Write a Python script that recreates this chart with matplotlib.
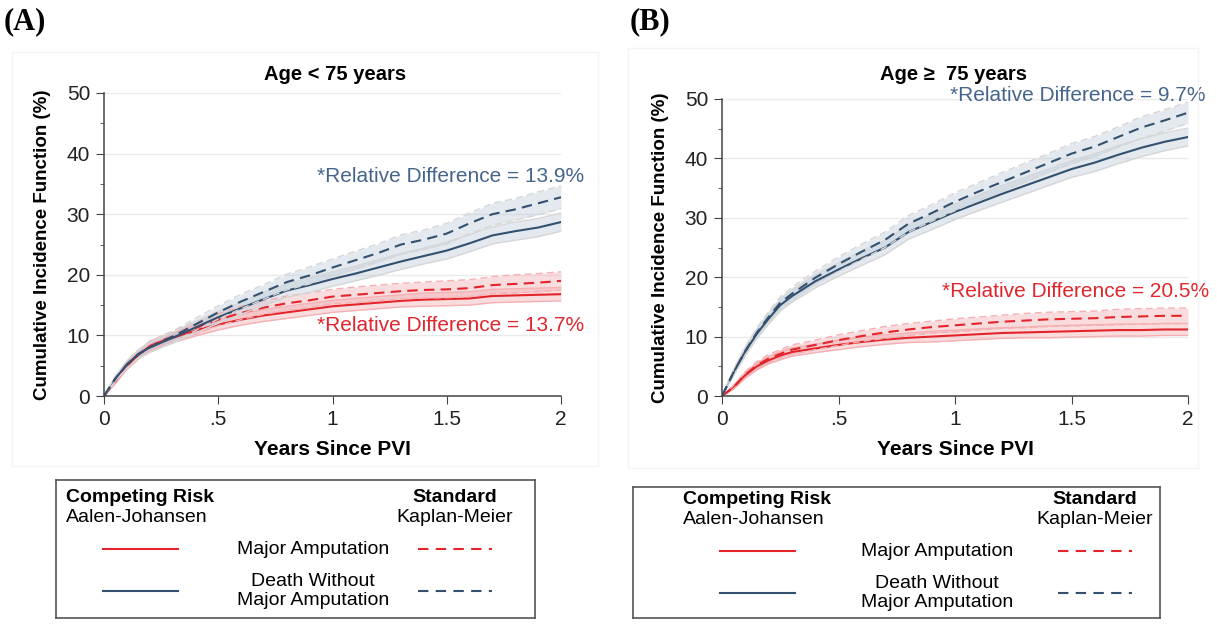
import numpy as np
import matplotlib
matplotlib.use('Agg')
from matplotlib import pyplot as plt
from matplotlib.patches import Rectangle

plt.rcParams['font.family'] = ['Liberation Sans', 'DejaVu Sans']

W, H = 1217, 624

# follow-up time (years)
times = [0, .05, .1, .15, .2, .25, .3, .4, .5, .6, .7, .8, .9, 1.0,
         1.1, 1.2, 1.3, 1.4, 1.5, 1.6, 1.7, 1.8, 1.9, 2.0]

# Panel A: age < 75
a_amp_aj = [0, 2.5, 5.0, 6.8, 8.2, 9.0, 9.6, 10.8, 11.8, 12.6, 13.3, 13.8, 14.3, 14.8,
            15.1, 15.4, 15.7, 15.9, 16.0, 16.1, 16.5, 16.6, 16.7, 16.8]
a_amp_km = [0, 2.5, 5.0, 6.8, 8.2, 9.1, 9.8, 11.2, 12.6, 13.7, 14.6, 15.3, 15.8, 16.4,
            16.7, 17.0, 17.3, 17.5, 17.6, 17.8, 18.3, 18.5, 18.7, 19.0]
a_death_aj = [0, 2.9, 5.2, 6.9, 8.0, 8.8, 9.6, 11.3, 13.0, 14.5, 16.0, 17.4, 18.3, 19.3,
              20.2, 21.2, 22.2, 23.1, 24.0, 25.2, 26.5, 27.2, 27.8, 28.7]
a_death_km = [0, 2.9, 5.2, 6.9, 8.0, 8.9, 9.8, 11.8, 13.8, 15.6, 17.2, 18.8, 19.9, 21.2,
              22.4, 23.6, 25.0, 25.8, 26.8, 28.5, 30.0, 30.8, 31.8, 32.8]
# 95% CI half-widths
a_amp_aj_ci = [0, .4, .6, .7, .8, .8, .8, .9, .9, .9, 1.0, 1.0, 1.0, 1.0,
               1.0, 1.0, 1.0, 1.1, 1.1, 1.1, 1.1, 1.1, 1.1, 1.1]
a_amp_km_ci = [0, .4, .6, .7, .8, .8, .9, 1.0, 1.0, 1.1, 1.1, 1.2, 1.2, 1.2,
               1.3, 1.3, 1.3, 1.3, 1.4, 1.4, 1.4, 1.5, 1.5, 1.5]
a_death_aj_ci = [0, .4, .6, .7, .8, .8, .9, .9, 1.0, 1.0, 1.1, 1.1, 1.2, 1.2,
                 1.2, 1.3, 1.3, 1.3, 1.4, 1.4, 1.4, 1.5, 1.5, 1.5]
a_death_km_ci = [0, .4, .6, .7, .8, .9, .9, 1.0, 1.1, 1.2, 1.2, 1.3, 1.4, 1.4,
                 1.5, 1.5, 1.6, 1.6, 1.7, 1.7, 1.8, 1.8, 1.9, 1.9]

# Panel B: age >= 75
b_amp_aj = [0, 1.5, 3.5, 5.0, 6.0, 6.8, 7.4, 8.0, 8.6, 9.1, 9.5, 9.8, 10.0, 10.2,
            10.4, 10.6, 10.7, 10.8, 10.9, 11.0, 11.1, 11.1, 11.2, 11.2]
b_amp_km = [0, 1.5, 3.6, 5.2, 6.3, 7.1, 7.8, 8.6, 9.4, 10.1, 10.7, 11.2, 11.6, 11.9,
            12.2, 12.5, 12.7, 12.9, 13.0, 13.1, 13.3, 13.4, 13.5, 13.5]
b_death_aj = [0, 4.0, 7.5, 10.5, 13.0, 15.3, 16.8, 19.3, 21.3, 23.2, 25.0, 27.6, 29.3, 31.0,
              32.5, 34.0, 35.4, 36.8, 38.2, 39.3, 40.6, 41.8, 42.8, 43.6]
b_death_km = [0, 4.0, 7.6, 10.7, 13.3, 15.7, 17.2, 19.9, 22.2, 24.3, 26.3, 29.0, 30.8, 32.7,
              34.4, 36.0, 37.6, 39.2, 40.8, 42.0, 43.6, 45.2, 46.4, 47.7]
b_amp_aj_ci = [0, .3, .5, .6, .6, .7, .7, .7, .8, .8, .8, .8, .9, .9,
               .9, .9, .9, 1.0, 1.0, 1.0, 1.0, 1.0, 1.0, 1.0]
b_amp_km_ci = [0, .3, .5, .6, .7, .7, .8, .8, .9, .9, 1.0, 1.0, 1.0, 1.1,
               1.1, 1.1, 1.2, 1.2, 1.2, 1.2, 1.3, 1.3, 1.3, 1.3]
b_death_aj_ci = [0, .5, .7, .8, .9, 1.0, 1.0, 1.1, 1.1, 1.2, 1.2, 1.2, 1.3, 1.3,
                 1.3, 1.4, 1.4, 1.4, 1.4, 1.5, 1.5, 1.5, 1.5, 1.5]
b_death_km_ci = [0, .5, .7, .8, .9, 1.0, 1.1, 1.1, 1.2, 1.3, 1.3, 1.4, 1.4, 1.5,
                 1.5, 1.6, 1.6, 1.6, 1.7, 1.7, 1.7, 1.8, 1.8, 1.8]

xticks = [0, .5, 1, 1.5, 2]
xticklabels = ['0', '.5', '1', '1.5', '2']
yticks = [0, 10, 20, 30, 40, 50]

RED = '#e3242b'
BLUE = '#33506f'
RED_TXT = '#e0262d'
BLUE_TXT = '#46658c'
RED_BAND = '#f2a9ad'
BLUE_BAND = '#b9c9d9'


def fx(x):
    return x / W


def fy(y):
    return 1 - y / H


fig = plt.figure(figsize=(W / 100, H / 100), dpi=100)

# faint panel frames
for (x0, y0, x1, y1) in [(12, 52, 598, 466), (628, 48, 1198, 468)]:
    fig.patches.append(Rectangle((fx(x0), fy(y1)), fx(x1 - x0), (y1 - y0) / H,
                                 transform=fig.transFigure, fill=False,
                                 edgecolor='#f4f4f4', lw=1))


def draw_curve(ax, y, ci, color, band, ls):
    y = np.array(y)
    ci = np.array(ci)
    ax.fill_between(times, y - ci, y + ci, color=band, alpha=0.4, lw=0)
    edge = '#d6d6d6' if color == BLUE else '#f5b0b4'
    ax.plot(times, y - ci, color=edge, lw=1, ls=ls)
    ax.plot(times, y + ci, color=edge, lw=1, ls=ls)
    ax.plot(times, y, color=color, lw=1.5, ls=ls)


def panel(rect, title, title_xy, series, notes):
    ax = fig.add_axes(rect)
    for s in series:
        draw_curve(ax, *s)
    ax.set_xlim(0, 2)
    ax.set_ylim(0, 50)
    ax.set_xticks(xticks)
    ax.set_xticklabels(xticklabels)
    ax.set_yticks(yticks)
    ax.set_yticks([5, 15, 25, 35, 45], minor=True)
    ax.yaxis.grid(True, color='#eaeaea', lw=1)
    ax.set_axisbelow(True)
    for sp in ['top', 'right']:
        ax.spines[sp].set_visible(False)
    for sp in ['left', 'bottom']:
        ax.spines[sp].set_color('#444444')
        ax.spines[sp].set_linewidth(1.1)
    ax.tick_params(which='major', length=6, color='#444444', labelsize=15,
                   labelcolor='#222222', pad=4)
    ax.tick_params(which='minor', length=3, color='#444444')
    ax.set_xlabel('Years Since PVI', fontsize=15, fontweight='bold', labelpad=8)
    ax.set_ylabel('Cumulative Incidence Function (%)', fontsize=13.5,
                  fontweight='bold', labelpad=11)
    fig.text(fx(title_xy[0]), fy(title_xy[1]), title, fontsize=14.5,
             fontweight='bold', ha='center', va='center')
    for (x, y, txt, c) in notes:
        ax.text(x, y, txt, color=c, fontsize=15, ha='right', va='center',
                clip_on=False)
    return ax


panel([fx(104), fy(396), fx(561 - 104), (396 - 93) / H], 'Age < 75 years', (335, 74),
      [(a_amp_aj, a_amp_aj_ci, RED, RED_BAND, '-'),
       (a_amp_km, a_amp_km_ci, RED, RED_BAND, (0, (5, 3))),
       (a_death_aj, a_death_aj_ci, BLUE, BLUE_BAND, '-'),
       (a_death_km, a_death_km_ci, BLUE, BLUE_BAND, (0, (5, 3)))],
      [(2.1, 36.3, '*Relative Difference = 13.9%', BLUE_TXT),
       (2.1, 11.6, '*Relative Difference = 13.7%', RED_TXT)])

panel([fx(722), fy(396), fx(1188 - 722), (396 - 99) / H], 'Age \u2265  75 years', (954, 74),
      [(b_amp_aj, b_amp_aj_ci, RED, RED_BAND, '-'),
       (b_amp_km, b_amp_km_ci, RED, RED_BAND, (0, (5, 3))),
       (b_death_aj, b_death_aj_ci, BLUE, BLUE_BAND, '-'),
       (b_death_km, b_death_km_ci, BLUE, BLUE_BAND, (0, (5, 3)))],
      [(2.075, 50.6, '*Relative Difference = 9.7%', BLUE_TXT),
       (2.09, 17.6, '*Relative Difference = 20.5%', RED_TXT)])


def legend_box(x0, y0, x1, y1, col_left, col_mid, col_right, rows_y, head_y):
    lax = fig.add_axes([fx(x0), fy(y1), fx(x1 - x0), (y1 - y0) / H])
    lax.set_xlim(x0, x1)
    lax.set_ylim(y1, y0)
    lax.set_xticks([])
    lax.set_yticks([])
    for sp in lax.spines.values():
        sp.set_color('#555555')
        sp.set_linewidth(1.2)
    lax.text(col_left, head_y, 'Competing Risk', fontsize=14, fontweight='bold',
             ha='left', va='center')
    lax.text(col_left, head_y + 20, 'Aalen-Johansen', fontsize=14,
             ha='left', va='center')
    lax.text(col_right, head_y, 'Standard', fontsize=14, fontweight='bold',
             ha='center', va='center')
    lax.text(col_right, head_y + 20, 'Kaplan-Meier', fontsize=14,
             ha='center', va='center')
    labels = ['Major Amputation', 'Death Without\nMajor Amputation']
    for yy, lab, c in zip(rows_y, labels, [RED, BLUE]):
        lax.plot([col_left + 37, col_left + 112], [yy, yy], color=c, lw=1.5)
        lax.plot([col_right - 37, col_right + 37], [yy, yy], color=c, lw=1.5,
                 ls=(0, (5, 3.5)))
        lax.text(col_mid, yy, lab, fontsize=14, ha='center', va='center',
                 linespacing=1.1)


legend_box(56, 480, 535, 618, 66, 313, 455, [549, 591], 497)
legend_box(633, 487, 1160, 618, 683, 937, 1095, [551, 593], 500)

fig.text(fx(4), fy(22), '(A)', fontsize=22, fontweight='bold',
         family='Liberation Serif', ha='left', va='center')
fig.text(fx(630), fy(22), '(B)', fontsize=22, fontweight='bold',
         family='Liberation Serif', ha='left', va='center')

fig.savefig('out.png', dpi=100, facecolor='white')
